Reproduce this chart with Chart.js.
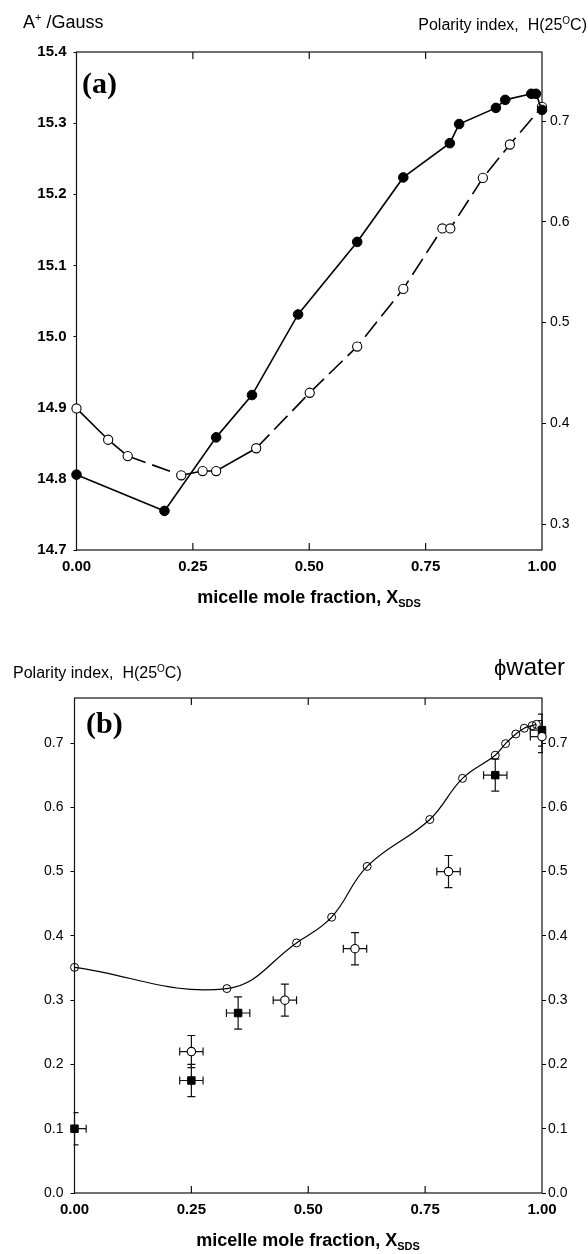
<!DOCTYPE html>
<html lang="en">
<head>
    <meta charset="UTF-8">
    <title>A+ and polarity index vs micelle mole fraction</title>
    <script src="https://cdn.jsdelivr.net/npm/chart.js@4.4.0/dist/chart.umd.min.js"></script>
    <style>
        body { margin: 0; background: #fff; color: #000; font-family: "Liberation Sans", Arial, sans-serif; }
        #page { position: relative; width: 588px; height: 1254px; overflow: hidden; }
        .plot { position: absolute; left: 0; }
        .lbl { position: absolute; white-space: nowrap; line-height: 1; }
        .lbl sup { font-size: 10px; vertical-align: 6px; line-height: 0; }
        .xt { font-weight: bold; font-size: 18px; transform: translate(-50%, -50%); }
        .xt sub { font-size: 11px; vertical-align: -4px; line-height: 0; }
        .tag { font-family: "Liberation Serif", "Times New Roman", serif; font-weight: bold; font-size: 30px; }
    </style>
</head>
<body>
<div id="page">
    <div class="plot" style="top:0px"><canvas id="chartA" width="588" height="620"></canvas></div>
    <div class="plot" style="top:640px"><canvas id="chartB" width="588" height="614"></canvas></div>

    <div class="lbl" style="left:23px; top:13px; font-size:18px;">A<sup style="font-size:11px; vertical-align:7px;">+</sup> /Gauss</div>
    <div class="lbl" style="right:1px; top:17px; font-size:16px;">Polarity index,&nbsp; H(25<sup>O</sup>C)</div>
    <div class="lbl tag" style="left:82px; top:68px;">(a)</div>
    <div class="lbl xt" style="left:309px; top:597px;">micelle mole fraction, X<sub>SDS</sub></div>

    <div class="lbl" style="left:13px; top:665px; font-size:16px;">Polarity index,&nbsp; H(25<sup>O</sup>C)</div>
    <div class="lbl" style="left:494px; top:655px; font-size:24px;"><span style="font-size:22px;">&#981;</span>water</div>
    <div class="lbl tag" style="left:86px; top:708px;">(b)</div>
    <div class="lbl xt" style="left:308px; top:1240px;">micelle mole fraction, X<sub>SDS</sub></div>
</div>
<script>
    // ---- shared
    var xTicks = [0, 0.25, 0.5, 0.75, 1];

    // ---- panel (a)
    var aTicks = [14.7, 14.8, 14.9, 15.0, 15.1, 15.2, 15.3, 15.4];
    var hTicksA = [0.3, 0.4, 0.5, 0.6, 0.7];
    // open circles: A+ (left axis)
    var xOpenA = [0, 0.068, 0.11, 0.225, 0.271, 0.30, 0.386, 0.501, 0.603, 0.702, 0.786, 0.803, 0.873, 0.931, 1.0];
    var aOpenA = [14.899, 14.855, 14.832, 14.805, 14.811, 14.811, 14.843, 14.921, 14.986, 15.067, 15.152, 15.152, 15.223, 15.27, 15.323];
    // filled circles: polarity index H (right axis)
    var xFillA = [0, 0.189, 0.300, 0.377, 0.476, 0.603, 0.702, 0.802, 0.822, 0.901, 0.921, 0.977, 0.987, 1.0];
    var hFillA = [0.349, 0.313, 0.386, 0.428, 0.508, 0.580, 0.644, 0.678, 0.697, 0.713, 0.721, 0.727, 0.727, 0.711];

    // ---- panel (b)
    var hTicksB = [0, 0.1, 0.2, 0.3, 0.4, 0.5, 0.6, 0.7];
    var xCurveB = [0, 0.326, 0.475, 0.55, 0.626, 0.76, 0.83, 0.90, 0.922, 0.944, 0.962, 0.979, 0.988];
    var hCurveB = [0.351, 0.318, 0.389, 0.429, 0.508, 0.581, 0.645, 0.681, 0.699, 0.714, 0.723, 0.727, 0.729];
    var xCircB = [0.25, 0.45, 0.60, 0.80, 1.0];
    var yCircB = [0.22, 0.30, 0.38, 0.50, 0.71];
    var xErrCircB = [0.025, 0.025, 0.025, 0.025, 0.025];
    var yErrCircB = [0.025, 0.025, 0.025, 0.025, 0.025];
    var xSqB = [0, 0.25, 0.35, 0.90, 1.0];
    var ySqB = [0.10, 0.175, 0.28, 0.65, 0.72];
    var xErrSqB = [0.025, 0.025, 0.025, 0.025, 0.025];
    var yErrSqB = [0.025, 0.025, 0.025, 0.025, 0.025];

    function pts(xs, ys) {
        return xs.map(function (x, i) { return { x: x, y: ys[i] }; });
    }

    // frame with inward x ticks, and x/y error bars
    var framePlugin = {
        id: 'frame',
        beforeDatasetsDraw: function (chart) {
            var a = chart.chartArea, ctx = chart.ctx, xs = chart.scales.x;
            ctx.save();
            ctx.strokeStyle = '#111';
            ctx.lineWidth = 1.2;
            ctx.strokeRect(a.left, a.top, a.right - a.left, a.bottom - a.top);
            ctx.beginPath();
            xTicks.forEach(function (v) {
                if (v <= 0 || v >= 1) return;
                var px = xs.getPixelForValue(v);
                ctx.moveTo(px, a.bottom); ctx.lineTo(px, a.bottom - 7);
                ctx.moveTo(px, a.top); ctx.lineTo(px, a.top + 7);
            });
            ctx.stroke();

            // error bars
            ctx.beginPath();
            ctx.rect(a.left - 1, a.top - 1, a.right - a.left + 2, a.bottom - a.top + 2);
            ctx.clip();
            ctx.lineWidth = 1.2;
            chart.data.datasets.forEach(function (ds) {
                if (!ds.errX) return;
                var ys = chart.scales[ds.yAxisID];
                ds.data.forEach(function (p, i) {
                    var cx = xs.getPixelForValue(p.x), cy = ys.getPixelForValue(p.y);
                    var x0 = xs.getPixelForValue(p.x - ds.errX[i]), x1 = xs.getPixelForValue(p.x + ds.errX[i]);
                    var y0 = ys.getPixelForValue(p.y - ds.errY[i]), y1 = ys.getPixelForValue(p.y + ds.errY[i]);
                    ctx.beginPath();
                    ctx.moveTo(x0, cy); ctx.lineTo(x1, cy);
                    ctx.moveTo(x0, cy - 4); ctx.lineTo(x0, cy + 4);
                    ctx.moveTo(x1, cy - 4); ctx.lineTo(x1, cy + 4);
                    ctx.moveTo(cx, y0); ctx.lineTo(cx, y1);
                    ctx.moveTo(cx - 4, y0); ctx.lineTo(cx + 4, y0);
                    ctx.moveTo(cx - 4, y1); ctx.lineTo(cx + 4, y1);
                    ctx.stroke();
                });
            });
            ctx.restore();
        }
    };

    function xScale(height) {
        return {
            type: 'linear', min: 0, max: 1,
            afterBuildTicks: function (s) { s.ticks = xTicks.map(function (v) { return { value: v }; }); },
            afterFit: function (s) { s.height = height; },
            grid: { display: false, drawTicks: false },
            border: { display: false },
            ticks: {
                color: '#000', padding: 8, maxRotation: 0, autoSkip: false,
                font: { size: 15, weight: 'bold' },
                callback: function (v) { return v.toFixed(2); }
            }
        };
    }

    function yScale(pos, min, max, tickVals, width, font, tickLen, pad) {
        return {
            type: 'linear', position: pos, min: min, max: max,
            afterBuildTicks: function (s) { s.ticks = tickVals.map(function (v) { return { value: v }; }); },
            afterFit: function (s) { s.width = width; },
            grid: { drawOnChartArea: false, tickLength: tickLen, color: '#000', lineWidth: 1 },
            border: { display: false },
            ticks: {
                color: '#000', padding: pad, font: font,
                callback: function (v) { return v.toFixed(1); }
            }
        };
    }

    Chart.defaults.font.family = '"Liberation Sans", Arial, sans-serif';
    Chart.defaults.color = '#000';

    var common = {
        responsive: false,
        animation: false,
        events: [],
        plugins: { legend: { display: false }, tooltip: { enabled: false } }
    };

    new Chart(document.getElementById('chartA'), {
        type: 'line',
        data: {
            datasets: [{
                data: pts(xFillA, hFillA), yAxisID: 'yH',
                borderColor: '#000', borderWidth: 1.6, tension: 0, clip: false,
                pointRadius: 4.8, pointBackgroundColor: '#000', pointBorderColor: '#000', pointBorderWidth: 1
            }, {
                data: pts(xOpenA, aOpenA), yAxisID: 'yA',
                borderColor: '#000', borderWidth: 1.6, tension: 0, clip: false,
                pointRadius: 4.6, pointBackgroundColor: '#fff', pointBorderColor: '#000', pointBorderWidth: 1.1,
                segment: {
                    borderDash: function (ctx) {
                        var i = ctx.p0DataIndex;
                        return (i === 2 || i >= 6) ? [19, 7] : undefined;
                    }
                }
            }]
        },
        options: Object.assign({}, common, {
            layout: { padding: { top: 52, left: 0, right: 0, bottom: 0 } },
            scales: {
                x: xScale(70),
                yA: yScale('left', 14.7, 15.4, aTicks, 76.5, { size: 15, weight: 'bold' }, 3, 7),
                yH: yScale('right', 0.2742, 0.7685, hTicksA, 46, { size: 14 }, 4, 4)
            }
        }),
        plugins: [framePlugin]
    });

    new Chart(document.getElementById('chartB'), {
        type: 'line',
        data: {
            datasets: [{
                data: pts(xCurveB, hCurveB), yAxisID: 'yL',
                borderColor: '#000', borderWidth: 1.2, tension: 0.4, clip: false,
                pointRadius: 4, pointBackgroundColor: 'rgba(255,255,255,0)', pointBorderColor: '#000', pointBorderWidth: 1
            }, {
                data: pts(xCircB, yCircB), yAxisID: 'yR', showLine: false, clip: false,
                errX: xErrCircB, errY: yErrCircB,
                pointRadius: 4.2, pointBackgroundColor: '#fff', pointBorderColor: '#000', pointBorderWidth: 1.1
            }, {
                data: pts(xSqB, ySqB), yAxisID: 'yR', showLine: false, clip: false,
                errX: xErrSqB, errY: yErrSqB,
                pointStyle: 'rect', pointRadius: 5.3, pointBackgroundColor: '#000', pointBorderColor: '#000', pointBorderWidth: 1
            }]
        },
        options: Object.assign({}, common, {
            layout: { padding: { top: 58, left: 0, right: 0, bottom: 0 } },
            scales: {
                x: xScale(61),
                yL: yScale('left', 0, 0.77, hTicksB, 74.5, { size: 14 }, 4, 7),
                yR: yScale('right', 0, 0.77, hTicksB, 46, { size: 14 }, 4, 2)
            }
        }),
        plugins: [framePlugin]
    });
</script>
</body>
</html>
